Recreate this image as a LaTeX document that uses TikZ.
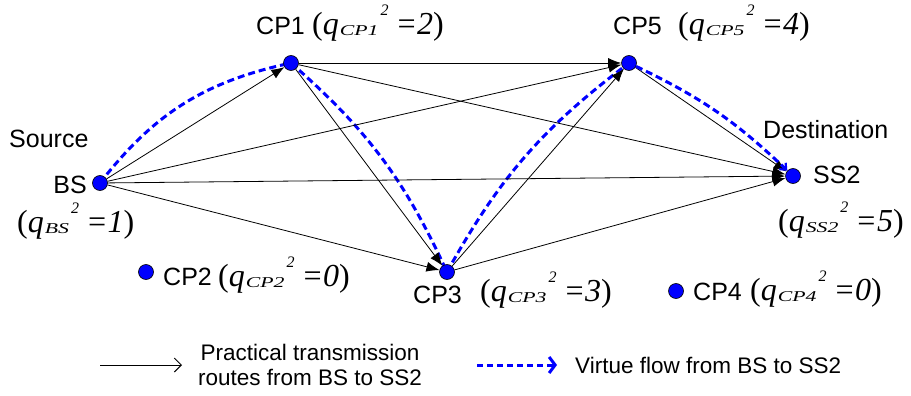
\documentclass[tikz,border=0pt]{standalone}
\usepackage{fontspec}
\setmainfont{Liberation Sans}
\newfontfamily\tms{Liberation Serif}
\usetikzlibrary{arrows.meta,backgrounds}
\newcommand\qlab[2]{{\tms\fontsize{32}{32}\selectfont(\textit{q}\kern1pt\raisebox{-1pt}{\scalebox{1.45}[1]{\fontsize{15}{15}\selectfont\itshape #1}}\kern2pt\raisebox{19pt}{\fontsize{16}{16}\selectfont\itshape 2}\kern7pt\textit{=#2})}}
\tikzset{
  dot/.style={circle,fill=blue,draw=black,line width=0.6pt,minimum size=15pt,inner sep=0pt},
  lbl/.style={font=\fontsize{25}{28}\selectfont,inner sep=0pt},
  qtext/.style={inner sep=0pt,anchor=base west},
  route/.style={line width=0.8pt,-{Latex[length=13pt,width=10pt]}},
  flow/.style={blue,line width=3pt,dash pattern=on 7pt off 4pt},
  legtext/.style={font=\fontsize{22.5}{25}\selectfont,inner sep=0pt}
}
\begin{document}
\begin{tikzpicture}[x=1pt,y=-1pt]
\useasboundingbox (0,0) rectangle (911,396);
% dots
\node[dot] (bs)  at (100,183) {};
\node[dot] (cp1) at (291,63) {};
\node[dot] (cp5) at (629,63) {};
\node[dot] (ss2) at (793,176) {};
\node[dot] (cp3) at (447,272) {};
\node[dot] (cp2) at (146,272) {};
\node[dot] (cp4) at (676,291) {};
% labels
\node[lbl,anchor=base west] (l1) at (256,35) {CP1};
\node[qtext] (q1) at (312,35) {\qlab{CP1}{2}};
\node[lbl,anchor=base west] (l5) at (613,35) {CP5};
\node[qtext] (q5) at (678,35) {\qlab{CP5}{4}};
\node[lbl,anchor=base west] (src) at (9,147) {Source};
\node[lbl,anchor=base east] (lbs) at (87,193) {BS};
\node[qtext] (qbs) at (17,232) {\qlab{BS}{1}};
\node[lbl,anchor=base west] (dst) at (763,138) {Destination};
\node[lbl,anchor=base west] (lss) at (813,183) {SS2};
\node[qtext] (qss) at (778,231) {\qlab{SS2}{5}};
\node[lbl,anchor=base west] (l2) at (163,285) {CP2};
\node[qtext] (q2) at (218,286) {\qlab{CP2}{0}};
\node[lbl,anchor=base west] (l3) at (413,303) {CP3};
\node[qtext] (q3) at (480,301) {\qlab{CP3}{3}};
\node[lbl,anchor=base west] (l4) at (693,300) {CP4};
\node[qtext] (q4) at (750,300) {\qlab{CP4}{0}};
% routes
\draw[route] (bs) -- (cp1);
\draw[route] (bs) -- (cp5);
\draw[route] (bs) -- (ss2);
\draw[route] (bs) -- (cp3);
\draw[route] (cp1) -- (cp5);
\draw[route] (cp1) -- (ss2);
\draw[route] (cp1) -- (cp3);
\draw[route] (cp3) -- (cp5);
\draw[route] (cp3) -- (ss2);
\draw[route] (cp5) -- (ss2);
% virtual flow
\begin{pgfonlayer}{background}
\draw[flow] (bs.center) to[bend left=20] (cp1.center);
\draw[flow] (cp1.center) to[bend left=12] (cp3.center);
\draw[flow] (cp3.center) to[bend left=12] (cp5.center);
\end{pgfonlayer}
\draw[flow,-{Straight Barb[length=5pt,width=9pt,line width=2.2pt]}] (cp5) to[bend left=9] (ss2);
% legend
\coordinate (la1) at (100,365);
\coordinate (la2) at (182,365);
\draw[line width=1pt,-{Straight Barb[length=7pt,width=14pt,line width=1pt]}] (la1) -- (la2);
\node[legtext,align=center] (lt1) at (310,365) {Practical transmission\\routes from BS to SS2};
\coordinate (lb1) at (477,365);
\coordinate (lb2) at (557,365);
\draw[flow,dash pattern=on 6pt off 4pt,-{Straight Barb[length=6pt,width=16pt,line width=3pt]}] (lb1) -- (lb2);
\node[legtext,anchor=west] (lt2) at (575,365) {Virtue flow from BS to SS2};
\end{tikzpicture}
\end{document}
